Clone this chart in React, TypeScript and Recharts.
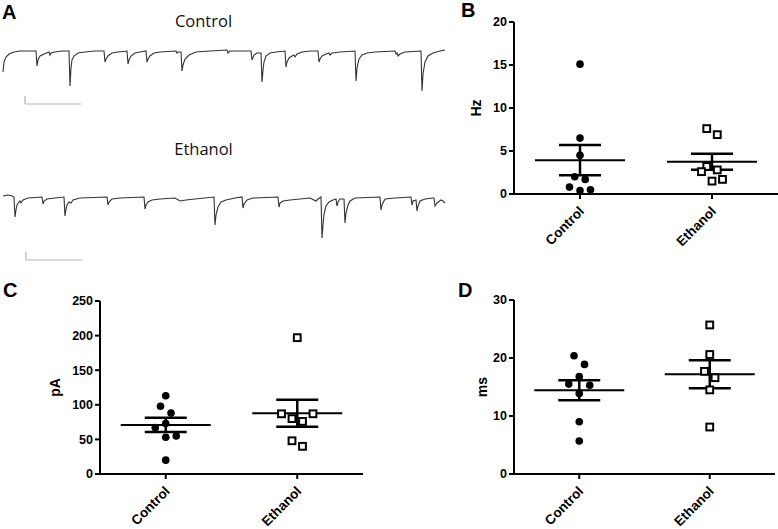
import React from 'react';
import {
  LineChart,
  Line,
  XAxis,
  YAxis,
  ReferenceLine,
  ScatterChart,
  Scatter,
  ErrorBar,
} from 'recharts';

const GROUPS = ['Control', 'Ethanol'];

// sEPSC frequency (Hz)
const freqControl = [15.1, 6.5, 4.5, 2.0, 1.7, 0.8, 0.4, 0.5];
const freqEthanol = [7.6, 6.9, 3.2, 2.6, 2.8, 1.5, 1.7];
const freqTicks = [0, 5, 10, 15, 20];

// sEPSC amplitude (pA)
const ampControl = [113, 98, 88, 73, 67, 55, 53, 20];
const ampEthanol = [197, 87, 80, 87, 76, 48, 40];
const ampTicks = [0, 50, 100, 150, 200, 250];

// decay time (ms)
const decayControl = [20.4, 18.9, 16.8, 15.5, 15.3, 13.9, 9.0, 5.7];
const decayEthanol = [25.7, 20.6, 17.7, 16.6, 14.5, 8.1];
const decayTicks = [0, 10, 20, 30];

// example recordings: time (ms) and holding current relative to baseline (pA)
const controlTime = [
  30, 40, 60, 90, 140, 200, 360, 370, 380, 400, 440, 490, 500, 510, 550, 620, 690,
  700, 710, 720, 740, 780, 850, 950, 1040, 1050, 1060, 1080, 1120, 1180, 1270,
  1280, 1290, 1310, 1350, 1400, 1460, 1470, 1480, 1500, 1540, 1600, 1760, 1770,
  1780, 1810, 1820, 1830, 1850, 1890, 1960, 2100, 2270, 2280, 2300, 2510, 2520,
  2540, 2570, 2610, 2620, 2630, 2640, 2660, 2700, 2760, 2850, 2860, 2870, 2890,
  2920, 2940, 2950, 2970, 3020, 3100, 3180, 3190, 3200, 3220, 3260, 3290, 3300,
  3320, 3400, 3550, 3560, 3570, 3590, 3620, 3670, 3750, 3950, 3960, 3970, 3980,
  4000, 4050, 4210, 4220, 4230, 4250, 4280, 4330, 4400, 4450,
];
const controlCurrent = [
  -42, -22, -12, -6, -2, 0, 0, -30, -18, -10, -6, -2, -8, -4, -2, 0, 0,
  -70, -34, -18, -10, -4, -2, 0, 0, -22, -16, -10, -4, -2, 0,
  -26, -18, -10, -4, -2, 0, -22, -16, -10, -4, -2, 0, -4,
  -2, -2, -40, -28, -16, -8, -2, 0, 2, -4, 0, 0, -18,
  -8, -4, -4, -62, -38, -22, -10, -4, -2, 0, -32, -22, -14,
  -10, -8, -12, -6, -2, 0, 0, -22, -16, -10, -6, -4, -8,
  -4, -2, 0, -60, -34, -16, -8, -4, -2, 0, -6, -4, -10,
  -6, -2, 0, -80, -46, -22, -10, -4, 0, 2,
];

const ethanolTime = [
  30, 80, 120, 140, 150, 160, 170, 190, 200, 210, 230, 280, 420, 430, 440, 470,
  550, 640, 650, 660, 670, 690, 710, 730, 800, 1070, 1080, 1090, 1120, 1200,
  1440, 1450, 1460, 1480, 1520, 1600, 1750, 1800, 1860, 1950, 2140, 2150, 2160,
  2180, 2210, 2260, 2350, 2420, 2430, 2440, 2470, 2530, 2780, 2790, 2800, 2830,
  2900, 3000, 3100, 3160, 3180, 3210, 3220, 3230, 3240, 3260, 3290, 3330, 3360,
  3370, 3380, 3400, 3440, 3450, 3460, 3480, 3500, 3550, 3800, 3810, 3820, 3850,
  3950, 4110, 4120, 4130, 4160, 4170, 4180, 4200, 4250, 4330, 4340, 4350, 4370,
  4410, 4430, 4450,
];
const ethanolCurrent = [
  2, 4, 2, 0, -40, -26, -16, -10, -8, -12, -6, -2, 0, -14, -8, -4,
  -2, 0, -38, -24, -16, -10, -12, -6, -2, 0, -16, -10, -4, -2,
  0, -24, -16, -10, -6, -4, -2, -8, -6, -4, 0, -56, -36,
  -20, -10, -6, -2, 0, -22, -14, -6, -2, 0, -20, -12, -8,
  -6, -4, -2, -8, -4, 0, -82, -56, -34, -18, -10, -6, -4,
  -18, -10, -4, -4, -52, -32, -16, -8, -2, 0, -26, -16, -4,
  -2, 0, -16, -8, -6, -28, -18, -8, -4, -2, -2, -18, -12,
  -6, -8, -12,
];

// scale bar size (unlabelled in the figure)
const SCALE_MS = 560;
const SCALE_PA = 16;

const FONT = '"Liberation Sans", Arial, sans-serif';
const STEP_PX = 10.5; // horizontal spacing between neighbouring dots
const ROW_PX = 10; // dots closer than this vertically share a row

// simple scatter-dot-plot layout: points that sit in the same row are spread sideways
function swarm(values: number[], pxPerUnit: number): number[] {
  const order = values.map((_, i) => i).sort((a, b) => values[a] - values[b]);
  const out = new Array(values.length).fill(0);
  let row: number[] = [];
  const flush = () => {
    const slots = row.length % 2 ? [0, 1, -1, 2, -2, 3, -3] : [0.5, -0.5, 1.5, -1.5, 2.5, -2.5];
    row.forEach((idx, k) => (out[idx] = slots[k]));
    row = [];
  };
  order.forEach((idx) => {
    if (row.length && (values[idx] - values[row[0]]) * pxPerUnit >= ROW_PX) flush();
    row.push(idx);
  });
  flush();
  return out;
}

const meanSem = (vals: number[]) => {
  const m = vals.reduce((a, b) => a + b, 0) / vals.length;
  const sd = Math.sqrt(vals.reduce((a, b) => a + (b - m) ** 2, 0) / (vals.length - 1));
  return { mean: m, sem: sd / Math.sqrt(vals.length) };
};

const MeanBar = (props: any) => (
  <line x1={props.cx - 45} x2={props.cx + 45} y1={props.cy} y2={props.cy} stroke="#000" strokeWidth={2} />
);
const FilledDot = (props: any) => <circle cx={props.cx} cy={props.cy} r={3.8} fill="#000" />;
const OpenSquare = (props: any) => (
  <rect x={props.cx - 3.4} y={props.cy - 3.4} width={6.8} height={6.8} fill="#fff" stroke="#000" strokeWidth={2} />
);

const GroupTick = (props: any) => {
  const { x, y, payload } = props;
  const label = GROUPS[Math.round(payload.value) - 1];
  const ax = x + 5;
  const ay = y + 13;
  return (
    <text x={ax} y={ay} transform={`rotate(-45, ${ax}, ${ay})`} textAnchor="end" fontSize={13.5} fontWeight={700} fill="#000" fontFamily={FONT}>
      {label}
    </text>
  );
};

const AxisTitle = (props: any) => {
  const { viewBox, text, shift } = props;
  const cx = viewBox.x + shift;
  const cy = viewBox.y + viewBox.height / 2;
  return (
    <text x={cx} y={cy} transform={`rotate(-90, ${cx}, ${cy})`} textAnchor="middle" dy="0.36em" fontSize={14} fontWeight={700} fill="#000" fontFamily={FONT}>
      {text}
    </text>
  );
};

interface DotPlotProps {
  left: number;
  width: number;
  yAxisWidth: number;
  plotTop: number;
  plotBottom: number;
  domain: [number, number];
  ticks: number[];
  title: string;
  titleX: number;
  control: number[];
  ethanol: number[];
}

const DotPlot: React.FC<DotPlotProps> = ({ left, width, yAxisWidth, plotTop, plotBottom, domain, ticks, title, titleX, control, ethanol }) => {
  const xUnit = (width - yAxisWidth) / 2;
  const yUnit = (plotBottom - plotTop) / (domain[1] - domain[0]);
  const toPoints = (vals: number[], g: number) => {
    const slots = swarm(vals, yUnit);
    return vals.map((v, i) => ({ x: g + (slots[i] * STEP_PX) / xUnit, y: v }));
  };
  const toStats = (vals: number[], g: number) => {
    const s = meanSem(vals);
    return [{ x: g, y: s.mean, sem: s.sem }];
  };
  const axisStyle = { stroke: '#000', strokeWidth: 2 };

  return (
    <div style={{ position: 'absolute', left, top: plotTop - 10 }}>
      <ScatterChart width={width} height={plotBottom - plotTop + 70} margin={{ top: 10, right: 0, bottom: 0, left: 0 }}>
        <XAxis
          dataKey="x"
          type="number"
          domain={[0.5, 2.5]}
          ticks={[1, 2]}
          height={60}
          axisLine={axisStyle}
          tickLine={axisStyle}
          tickSize={5}
          tickMargin={0}
          tick={<GroupTick />}
          allowDataOverflow
        />
        <YAxis
          dataKey="y"
          type="number"
          domain={domain}
          ticks={ticks}
          interval={0}
          width={yAxisWidth}
          axisLine={axisStyle}
          tickLine={axisStyle}
          tickSize={5}
          tickMargin={2}
          tick={{ fontSize: 12.5, fontWeight: 700, fill: '#000', fontFamily: FONT }}
          label={<AxisTitle text={title} shift={titleX} />}
          allowDataOverflow
        />
        <Scatter data={toStats(control, 1)} shape={MeanBar} isAnimationActive={false}>
          <ErrorBar dataKey="sem" direction="y" width={21} stroke="#000" strokeWidth={2.5} isAnimationActive={false} />
        </Scatter>
        <Scatter data={toStats(ethanol, 2)} shape={MeanBar} isAnimationActive={false}>
          <ErrorBar dataKey="sem" direction="y" width={21} stroke="#000" strokeWidth={2.5} isAnimationActive={false} />
        </Scatter>
        <Scatter data={toPoints(control, 1)} shape={FilledDot} isAnimationActive={false} />
        <Scatter data={toPoints(ethanol, 2)} shape={OpenSquare} isAnimationActive={false} />
      </ScatterChart>
    </div>
  );
};

interface TraceProps {
  time: number[];
  current: number[];
  top: number;
  height: number;
  domain: [number, number];
  barAt: { t: number; pA: number };
}

const Trace: React.FC<TraceProps> = ({ time, current, top, height, domain, barAt }) => {
  const data = time.map((t, i) => ({ t, pA: current[i] }));
  return (
    <div style={{ position: 'absolute', left: 0, top }}>
      <LineChart width={450} height={height} data={data} margin={{ top: 0, right: 0, bottom: 0, left: 0 }}>
        <XAxis dataKey="t" type="number" domain={[0, 4500]} hide allowDataOverflow />
        <YAxis type="number" domain={domain} hide allowDataOverflow />
        <ReferenceLine
          segment={[{ x: barAt.t, y: barAt.pA }, { x: barAt.t + SCALE_MS, y: barAt.pA }]}
          stroke="#b5b5b5"
          strokeWidth={1.2}
        />
        <ReferenceLine
          segment={[{ x: barAt.t, y: barAt.pA }, { x: barAt.t, y: barAt.pA + SCALE_PA }]}
          stroke="#b5b5b5"
          strokeWidth={1.2}
        />
        <Line dataKey="pA" type="linear" stroke="#333" strokeWidth={1.1} dot={false} isAnimationActive={false} />
      </LineChart>
    </div>
  );
};

const letterStyle: React.CSSProperties = {
  position: 'absolute',
  fontFamily: FONT,
  fontWeight: 700,
  fontSize: 20,
  lineHeight: 1,
  color: '#000',
};

const traceTitle: React.CSSProperties = {
  position: 'absolute',
  left: 150,
  width: 107,
  textAlign: 'center',
  fontFamily: '"Open Sans", sans-serif',
  fontSize: 16.5,
  lineHeight: 1,
  color: '#111',
};

export default function App() {
  return (
    <div style={{ position: 'absolute', left: 0, top: 0, width: 778, height: 529, background: '#fff', overflow: 'hidden' }}>
      <div style={{ ...letterStyle, left: 2, top: 2 }}>A</div>
      <div style={{ ...letterStyle, left: 461, top: 0 }}>B</div>
      <div style={{ ...letterStyle, left: 3, top: 280 }}>C</div>
      <div style={{ ...letterStyle, left: 458, top: 280 }}>D</div>

      <div style={{ ...traceTitle, top: 13 }}>Control</div>
      <div style={{ ...traceTitle, top: 141 }}>Ethanol</div>

      <Trace time={controlTime} current={controlCurrent} top={40} height={70} domain={[-118, 22]} barAt={{ t: 250, pA: -106 }} />
      <Trace time={ethanolTime} current={ethanolCurrent} top={185} height={80} domain={[-136, 24]} barAt={{ t: 260, pA: -126 }} />

      <DotPlot left={460} width={318} yAxisWidth={54} plotTop={22} plotBottom={194} domain={[0, 20]} ticks={freqTicks} title="Hz" titleX={16} control={freqControl} ethanol={freqEthanol} />
      <DotPlot left={40} width={323} yAxisWidth={60} plotTop={301} plotBottom={474} domain={[0, 250]} ticks={ampTicks} title="pA" titleX={15} control={ampControl} ethanol={ampEthanol} />
      <DotPlot left={460} width={315} yAxisWidth={54} plotTop={300} plotBottom={474} domain={[0, 30]} ticks={decayTicks} title="ms" titleX={22} control={decayControl} ethanol={decayEthanol} />
    </div>
  );
}
